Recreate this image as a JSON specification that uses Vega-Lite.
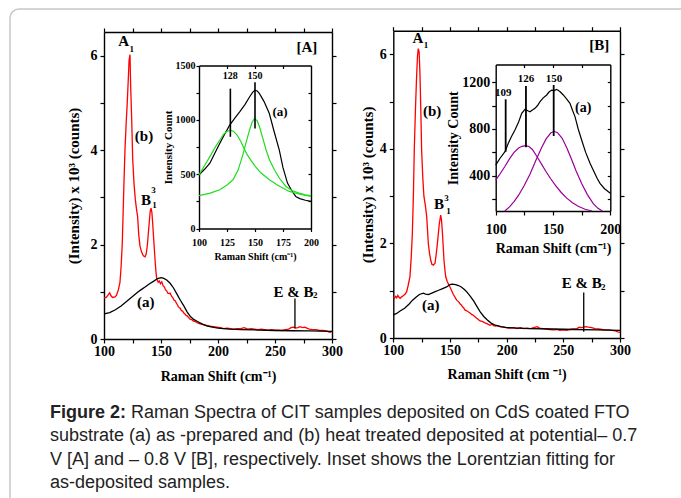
{
"$schema": "https://vega.github.io/schema/vega-lite/v6.json",
"width": 683, "height": 501,
"autosize": "none",
"padding": {"left": 10, "top": 9, "right": -12, "bottom": -12},
"background": "white",
"config": {
 "view": {"stroke": "#c8c8c8", "strokeWidth": 1.5, "cornerRadius": 9},
 "axis": {"grid": false, "domainColor": "black", "tickColor": "black", "labelColor": "black", "titleColor": "black", "labelFont": "Liberation Serif", "titleFont": "Liberation Serif", "labelFontWeight": "bold", "titleFontWeight": "bold", "domainWidth": 1.4, "tickWidth": 1.2, "labelFlush": false, "labelOverlap": false, "labelBound": false}
},
"resolve": {"scale": {"x": "independent", "y": "independent"}, "axis": {"x": "independent", "y": "independent"}},
"datasets": {
 "mainA": [
  {"x":100,"y":0.87,"s":"b"},{"x":102,"y":0.88,"s":"b"},{"x":103.5,"y":0.93,"s":"b"},{"x":105,"y":0.98,"s":"b"},{"x":106,"y":0.92,"s":"b"},{"x":107.5,"y":0.88,"s":"b"},{"x":109.7,"y":0.89,"s":"b"},{"x":111,"y":0.93,"s":"b"},{"x":112.6,"y":1.04,"s":"b"},{"x":114,"y":1.2,"s":"b"},{"x":115,"y":1.53,"s":"b"},{"x":116,"y":2.0,"s":"b"},{"x":116.7,"y":2.6,"s":"b"},{"x":117.5,"y":3.3,"s":"b"},{"x":118.4,"y":4.0,"s":"b"},{"x":119.5,"y":4.6,"s":"b"},{"x":120.4,"y":5.0,"s":"b"},{"x":121.3,"y":5.5,"s":"b"},{"x":122,"y":5.9,"s":"b"},{"x":122.8,"y":6.02,"s":"b"},{"x":123.4,"y":5.35,"s":"b"},{"x":124.3,"y":4.64,"s":"b"},{"x":125.2,"y":3.8,"s":"b"},{"x":126.3,"y":3.3,"s":"b"},{"x":127.5,"y":2.95,"s":"b"},{"x":128.5,"y":2.75,"s":"b"},{"x":129.5,"y":2.59,"s":"b"},{"x":130.5,"y":2.2,"s":"b"},{"x":131.6,"y":1.96,"s":"b"},{"x":133,"y":1.84,"s":"b"},{"x":134.5,"y":1.76,"s":"b"},{"x":136,"y":1.74,"s":"b"},{"x":137,"y":1.8,"s":"b"},{"x":138,"y":1.98,"s":"b"},{"x":138.9,"y":2.24,"s":"b"},{"x":139.8,"y":2.5,"s":"b"},{"x":140.5,"y":2.7,"s":"b"},{"x":141.3,"y":2.77,"s":"b"},{"x":142,"y":2.68,"s":"b"},{"x":142.7,"y":2.45,"s":"b"},{"x":143.5,"y":2.15,"s":"b"},{"x":144.2,"y":1.89,"s":"b"},{"x":145,"y":1.6,"s":"b"},{"x":145.7,"y":1.39,"s":"b"},{"x":146.3,"y":1.27,"s":"b"},{"x":147.5,"y":1.2,"s":"b"},{"x":148.5,"y":1.23,"s":"b"},{"x":149.5,"y":1.17,"s":"b"},{"x":150.7,"y":1.21,"s":"b"},{"x":152,"y":1.12,"s":"b"},{"x":153,"y":1.1,"s":"b"},{"x":154,"y":1.04,"s":"b"},{"x":155,"y":1.02,"s":"b"},{"x":156,"y":0.97,"s":"b"},{"x":157,"y":0.96,"s":"b"},{"x":158,"y":0.97,"s":"b"},{"x":159.4,"y":0.9,"s":"b"},{"x":160.5,"y":0.87,"s":"b"},{"x":161.5,"y":0.82,"s":"b"},{"x":162.5,"y":0.81,"s":"b"},{"x":163.5,"y":0.76,"s":"b"},{"x":164.5,"y":0.72,"s":"b"},{"x":165.3,"y":0.68,"s":"b"},{"x":166.8,"y":0.65,"s":"b"},{"x":168,"y":0.6,"s":"b"},{"x":169,"y":0.59,"s":"b"},{"x":170,"y":0.55,"s":"b"},{"x":171,"y":0.53,"s":"b"},{"x":172,"y":0.5,"s":"b"},{"x":173,"y":0.49,"s":"b"},{"x":174,"y":0.46,"s":"b"},{"x":175.5,"y":0.42,"s":"b"},{"x":177,"y":0.41,"s":"b"},{"x":178.5,"y":0.38,"s":"b"},{"x":180,"y":0.37,"s":"b"},{"x":182,"y":0.34,"s":"b"},{"x":184.3,"y":0.32,"s":"b"},{"x":186,"y":0.31,"s":"b"},{"x":188,"y":0.3,"s":"b"},{"x":190,"y":0.29,"s":"b"},{"x":193,"y":0.27,"s":"b"},{"x":196,"y":0.26,"s":"b"},{"x":199,"y":0.25,"s":"b"},{"x":202,"y":0.24,"s":"b"},{"x":205,"y":0.22,"s":"b"},{"x":208,"y":0.23,"s":"b"},{"x":211,"y":0.22,"s":"b"},{"x":214,"y":0.21,"s":"b"},{"x":217,"y":0.22,"s":"b"},{"x":220,"y":0.22,"s":"b"},{"x":223,"y":0.24,"s":"b"},{"x":226,"y":0.21,"s":"b"},{"x":229,"y":0.22,"s":"b"},{"x":232,"y":0.21,"s":"b"},{"x":235,"y":0.2,"s":"b"},{"x":238,"y":0.21,"s":"b"},{"x":241,"y":0.2,"s":"b"},{"x":244,"y":0.19,"s":"b"},{"x":247,"y":0.2,"s":"b"},{"x":250,"y":0.19,"s":"b"},{"x":253,"y":0.19,"s":"b"},{"x":256,"y":0.18,"s":"b"},{"x":259,"y":0.2,"s":"b"},{"x":262,"y":0.21,"s":"b"},{"x":264,"y":0.24,"s":"b"},{"x":266,"y":0.25,"s":"b"},{"x":268,"y":0.23,"s":"b"},{"x":270,"y":0.24,"s":"b"},{"x":272,"y":0.26,"s":"b"},{"x":274,"y":0.24,"s":"b"},{"x":276,"y":0.25,"s":"b"},{"x":278,"y":0.23,"s":"b"},{"x":280,"y":0.21,"s":"b"},{"x":283,"y":0.2,"s":"b"},{"x":286,"y":0.2,"s":"b"},{"x":289,"y":0.18,"s":"b"},{"x":292,"y":0.18,"s":"b"},{"x":295,"y":0.17,"s":"b"},{"x":297,"y":0.15,"s":"b"},{"x":298.5,"y":0.14,"s":"b"},{"x":300,"y":0.16,"s":"b"},
  {"x":100,"y":0.53,"s":"a"},{"x":105,"y":0.56,"s":"a"},{"x":110,"y":0.62,"s":"a"},{"x":115,"y":0.7,"s":"a"},{"x":120,"y":0.8,"s":"a"},{"x":125,"y":0.9,"s":"a"},{"x":130,"y":1.0,"s":"a"},{"x":133,"y":1.05,"s":"a"},{"x":136,"y":1.1,"s":"a"},{"x":140,"y":1.17,"s":"a"},{"x":144,"y":1.23,"s":"a"},{"x":147,"y":1.28,"s":"a"},{"x":150,"y":1.3,"s":"a"},{"x":152,"y":1.29,"s":"a"},{"x":155,"y":1.25,"s":"a"},{"x":158,"y":1.18,"s":"a"},{"x":161,"y":1.08,"s":"a"},{"x":164,"y":0.95,"s":"a"},{"x":167,"y":0.82,"s":"a"},{"x":170,"y":0.7,"s":"a"},{"x":173,"y":0.57,"s":"a"},{"x":176,"y":0.47,"s":"a"},{"x":179,"y":0.41,"s":"a"},{"x":182,"y":0.37,"s":"a"},{"x":186,"y":0.32,"s":"a"},{"x":190,"y":0.28,"s":"a"},{"x":195,"y":0.25,"s":"a"},{"x":200,"y":0.23,"s":"a"},{"x":210,"y":0.21,"s":"a"},{"x":220,"y":0.2,"s":"a"},{"x":235,"y":0.19,"s":"a"},{"x":250,"y":0.18,"s":"a"},{"x":265,"y":0.175,"s":"a"},{"x":280,"y":0.17,"s":"a"},{"x":300,"y":0.16,"s":"a"}
 ],
 "mainB": [
  {"x":100,"y":0.87,"s":"b"},{"x":101,"y":0.84,"s":"b"},{"x":102,"y":0.88,"s":"b"},{"x":103,"y":0.85,"s":"b"},{"x":104,"y":0.9,"s":"b"},{"x":105,"y":0.86,"s":"b"},{"x":106,"y":0.84,"s":"b"},{"x":107.4,"y":0.87,"s":"b"},{"x":109,"y":0.9,"s":"b"},{"x":110.5,"y":0.93,"s":"b"},{"x":111.8,"y":0.98,"s":"b"},{"x":113,"y":1.1,"s":"b"},{"x":114.7,"y":1.3,"s":"b"},{"x":115.8,"y":1.7,"s":"b"},{"x":116.8,"y":2.21,"s":"b"},{"x":117.7,"y":3.0,"s":"b"},{"x":118.5,"y":3.97,"s":"b"},{"x":119.5,"y":4.8,"s":"b"},{"x":120.5,"y":5.5,"s":"b"},{"x":121.3,"y":5.95,"s":"b"},{"x":122,"y":6.12,"s":"b"},{"x":122.8,"y":6.05,"s":"b"},{"x":123.5,"y":5.6,"s":"b"},{"x":124.3,"y":4.8,"s":"b"},{"x":125,"y":3.97,"s":"b"},{"x":126,"y":3.4,"s":"b"},{"x":127,"y":3.0,"s":"b"},{"x":128.3,"y":2.8,"s":"b"},{"x":129.5,"y":2.56,"s":"b"},{"x":130.9,"y":2.0,"s":"b"},{"x":132,"y":1.78,"s":"b"},{"x":133,"y":1.65,"s":"b"},{"x":134,"y":1.56,"s":"b"},{"x":135.3,"y":1.54,"s":"b"},{"x":136.8,"y":1.58,"s":"b"},{"x":138,"y":1.8,"s":"b"},{"x":139.2,"y":2.07,"s":"b"},{"x":140.5,"y":2.4,"s":"b"},{"x":141.8,"y":2.6,"s":"b"},{"x":142.5,"y":2.5,"s":"b"},{"x":143.2,"y":2.28,"s":"b"},{"x":144,"y":1.95,"s":"b"},{"x":144.7,"y":1.65,"s":"b"},{"x":145.5,"y":1.45,"s":"b"},{"x":146.2,"y":1.3,"s":"b"},{"x":147.5,"y":1.2,"s":"b"},{"x":149,"y":1.12,"s":"b"},{"x":150,"y":1.08,"s":"b"},{"x":151.5,"y":1.0,"s":"b"},{"x":153,"y":0.92,"s":"b"},{"x":154.5,"y":0.86,"s":"b"},{"x":155.9,"y":0.8,"s":"b"},{"x":157.5,"y":0.77,"s":"b"},{"x":159,"y":0.72,"s":"b"},{"x":160,"y":0.7,"s":"b"},{"x":161,"y":0.66,"s":"b"},{"x":162,"y":0.64,"s":"b"},{"x":163.3,"y":0.59,"s":"b"},{"x":164.5,"y":0.58,"s":"b"},{"x":165.5,"y":0.56,"s":"b"},{"x":166.5,"y":0.55,"s":"b"},{"x":167.7,"y":0.53,"s":"b"},{"x":169,"y":0.5,"s":"b"},{"x":170,"y":0.49,"s":"b"},{"x":171,"y":0.47,"s":"b"},{"x":172.1,"y":0.45,"s":"b"},{"x":173.5,"y":0.42,"s":"b"},{"x":174.5,"y":0.4,"s":"b"},{"x":175.5,"y":0.38,"s":"b"},{"x":176.5,"y":0.36,"s":"b"},{"x":178.5,"y":0.35,"s":"b"},{"x":180.9,"y":0.32,"s":"b"},{"x":183,"y":0.3,"s":"b"},{"x":185.3,"y":0.27,"s":"b"},{"x":187,"y":0.29,"s":"b"},{"x":188.5,"y":0.26,"s":"b"},{"x":190,"y":0.25,"s":"b"},{"x":192,"y":0.26,"s":"b"},{"x":194,"y":0.24,"s":"b"},{"x":197,"y":0.23,"s":"b"},{"x":200,"y":0.22,"s":"b"},{"x":203,"y":0.21,"s":"b"},{"x":206,"y":0.22,"s":"b"},{"x":209,"y":0.2,"s":"b"},{"x":212,"y":0.22,"s":"b"},{"x":215,"y":0.2,"s":"b"},{"x":218,"y":0.21,"s":"b"},{"x":221,"y":0.2,"s":"b"},{"x":224,"y":0.22,"s":"b"},{"x":227,"y":0.24,"s":"b"},{"x":229,"y":0.21,"s":"b"},{"x":232,"y":0.2,"s":"b"},{"x":235,"y":0.19,"s":"b"},{"x":238,"y":0.18,"s":"b"},{"x":241,"y":0.17,"s":"b"},{"x":244,"y":0.18,"s":"b"},{"x":247,"y":0.16,"s":"b"},{"x":250,"y":0.17,"s":"b"},{"x":253,"y":0.16,"s":"b"},{"x":256,"y":0.18,"s":"b"},{"x":259,"y":0.19,"s":"b"},{"x":262,"y":0.2,"s":"b"},{"x":264,"y":0.23,"s":"b"},{"x":266,"y":0.22,"s":"b"},{"x":268,"y":0.23,"s":"b"},{"x":270,"y":0.24,"s":"b"},{"x":272,"y":0.23,"s":"b"},{"x":275,"y":0.22,"s":"b"},{"x":278,"y":0.2,"s":"b"},{"x":281,"y":0.19,"s":"b"},{"x":284,"y":0.18,"s":"b"},{"x":287,"y":0.17,"s":"b"},{"x":290,"y":0.17,"s":"b"},{"x":293,"y":0.16,"s":"b"},{"x":296,"y":0.15,"s":"b"},{"x":298,"y":0.13,"s":"b"},{"x":300,"y":0.12,"s":"b"},
  {"x":100,"y":0.49,"s":"a"},{"x":103,"y":0.52,"s":"a"},{"x":106,"y":0.57,"s":"a"},{"x":110,"y":0.63,"s":"a"},{"x":114,"y":0.72,"s":"a"},{"x":117,"y":0.8,"s":"a"},{"x":120,"y":0.86,"s":"a"},{"x":123,"y":0.92,"s":"a"},{"x":126.5,"y":0.95,"s":"a"},{"x":128.5,"y":0.93,"s":"a"},{"x":131,"y":0.92,"s":"a"},{"x":134,"y":0.95,"s":"a"},{"x":137,"y":0.98,"s":"a"},{"x":140,"y":1.01,"s":"a"},{"x":143,"y":1.04,"s":"a"},{"x":147,"y":1.08,"s":"a"},{"x":150,"y":1.13,"s":"a"},{"x":152,"y":1.14,"s":"a"},{"x":155,"y":1.13,"s":"a"},{"x":157.5,"y":1.11,"s":"a"},{"x":160,"y":1.08,"s":"a"},{"x":163,"y":1.02,"s":"a"},{"x":165,"y":0.97,"s":"a"},{"x":168,"y":0.88,"s":"a"},{"x":171,"y":0.78,"s":"a"},{"x":174,"y":0.66,"s":"a"},{"x":177,"y":0.54,"s":"a"},{"x":180,"y":0.45,"s":"a"},{"x":183,"y":0.38,"s":"a"},{"x":186,"y":0.32,"s":"a"},{"x":190,"y":0.27,"s":"a"},{"x":195,"y":0.24,"s":"a"},{"x":200,"y":0.22,"s":"a"},{"x":210,"y":0.21,"s":"a"},{"x":220,"y":0.2,"s":"a"},{"x":240,"y":0.19,"s":"a"},{"x":260,"y":0.18,"s":"a"},{"x":280,"y":0.17,"s":"a"},{"x":300,"y":0.16,"s":"a"}
 ],
 "insetA": [
  {"x":100,"y":494,"s":"a"},{"x":105,"y":545,"s":"a"},{"x":109.7,"y":601,"s":"a"},{"x":114,"y":690,"s":"a"},{"x":118.6,"y":784,"s":"a"},{"x":123,"y":870,"s":"a"},{"x":127.4,"y":951,"s":"a"},{"x":132,"y":1015,"s":"a"},{"x":136.3,"y":1073,"s":"a"},{"x":141,"y":1140,"s":"a"},{"x":145.1,"y":1210,"s":"a"},{"x":148,"y":1255,"s":"a"},{"x":150,"y":1272,"s":"a"},{"x":152,"y":1265,"s":"a"},{"x":154,"y":1241,"s":"a"},{"x":158,"y":1170,"s":"a"},{"x":162.8,"y":1058,"s":"a"},{"x":167,"y":895,"s":"a"},{"x":171.7,"y":722,"s":"a"},{"x":175,"y":560,"s":"a"},{"x":179,"y":418,"s":"a"},{"x":183,"y":345,"s":"a"},{"x":186.4,"y":295,"s":"a"},{"x":190,"y":275,"s":"a"},{"x":195,"y":260,"s":"a"},{"x":200,"y":250,"s":"a"},
  {"x":100,"y":494,"s":"g1"},{"x":105,"y":580,"s":"g1"},{"x":109.7,"y":661,"s":"g1"},{"x":114,"y":740,"s":"g1"},{"x":118.6,"y":814,"s":"g1"},{"x":122,"y":868,"s":"g1"},{"x":124.5,"y":890,"s":"g1"},{"x":128,"y":905,"s":"g1"},{"x":131,"y":893,"s":"g1"},{"x":134,"y":860,"s":"g1"},{"x":137.4,"y":800,"s":"g1"},{"x":140,"y":740,"s":"g1"},{"x":143,"y":680,"s":"g1"},{"x":146.3,"y":630,"s":"g1"},{"x":150,"y":575,"s":"g1"},{"x":155,"y":515,"s":"g1"},{"x":162.8,"y":448,"s":"g1"},{"x":170,"y":400,"s":"g1"},{"x":180.5,"y":341,"s":"g1"},{"x":190,"y":315,"s":"g1"},{"x":200,"y":295,"s":"g1"},
  {"x":100,"y":302,"s":"g2"},{"x":110,"y":325,"s":"g2"},{"x":118.6,"y":357,"s":"g2"},{"x":125,"y":400,"s":"g2"},{"x":130.4,"y":448,"s":"g2"},{"x":135,"y":540,"s":"g2"},{"x":139.2,"y":680,"s":"g2"},{"x":142,"y":790,"s":"g2"},{"x":145.1,"y":905,"s":"g2"},{"x":147.5,"y":980,"s":"g2"},{"x":149.6,"y":1012,"s":"g2"},{"x":152,"y":990,"s":"g2"},{"x":154,"y":936,"s":"g2"},{"x":157,"y":830,"s":"g2"},{"x":159.9,"y":722,"s":"g2"},{"x":163,"y":630,"s":"g2"},{"x":167.3,"y":540,"s":"g2"},{"x":172,"y":460,"s":"g2"},{"x":177.6,"y":387,"s":"g2"},{"x":183,"y":350,"s":"g2"},{"x":189.4,"y":326,"s":"g2"},{"x":195,"y":310,"s":"g2"},{"x":200,"y":302,"s":"g2"}
 ],
 "insetB": [
  {"x":100,"y":492,"s":"a"},{"x":103.8,"y":550,"s":"a"},{"x":108.1,"y":606,"s":"a"},{"x":111,"y":678,"s":"a"},{"x":114,"y":740,"s":"a"},{"x":116.8,"y":791,"s":"a"},{"x":120,"y":860,"s":"a"},{"x":122.7,"y":934,"s":"a"},{"x":125.6,"y":968,"s":"a"},{"x":128,"y":955,"s":"a"},{"x":129.9,"y":947,"s":"a"},{"x":132,"y":962,"s":"a"},{"x":134.3,"y":976,"s":"a"},{"x":136.5,"y":1000,"s":"a"},{"x":138.7,"y":1033,"s":"a"},{"x":141.5,"y":1065,"s":"a"},{"x":144.5,"y":1090,"s":"a"},{"x":146.5,"y":1115,"s":"a"},{"x":148.9,"y":1132,"s":"a"},{"x":151,"y":1128,"s":"a"},{"x":153.2,"y":1138,"s":"a"},{"x":156,"y":1120,"s":"a"},{"x":159,"y":1090,"s":"a"},{"x":162,"y":1055,"s":"a"},{"x":164.8,"y":1019,"s":"a"},{"x":167,"y":960,"s":"a"},{"x":169.2,"y":905,"s":"a"},{"x":172,"y":800,"s":"a"},{"x":175,"y":706,"s":"a"},{"x":178.5,"y":600,"s":"a"},{"x":182.3,"y":507,"s":"a"},{"x":186,"y":430,"s":"a"},{"x":188.5,"y":380,"s":"a"},{"x":191,"y":336,"s":"a"},{"x":195,"y":290,"s":"a"},{"x":200,"y":251,"s":"a"},
  {"x":100,"y":364,"s":"p1"},{"x":104,"y":420,"s":"p1"},{"x":108,"y":480,"s":"p1"},{"x":112,"y":545,"s":"p1"},{"x":116,"y":600,"s":"p1"},{"x":120,"y":638,"s":"p1"},{"x":123,"y":652,"s":"p1"},{"x":126,"y":657,"s":"p1"},{"x":129,"y":650,"s":"p1"},{"x":132,"y":625,"s":"p1"},{"x":136,"y":565,"s":"p1"},{"x":140,"y":500,"s":"p1"},{"x":144,"y":435,"s":"p1"},{"x":148,"y":375,"s":"p1"},{"x":152,"y":320,"s":"p1"},{"x":157,"y":260,"s":"p1"},{"x":162,"y":210,"s":"p1"},{"x":167,"y":170,"s":"p1"},{"x":172,"y":140,"s":"p1"},{"x":178,"y":115,"s":"p1"},{"x":184,"y":100,"s":"p1"},
  {"x":108,"y":100,"s":"p2"},{"x":112,"y":135,"s":"p2"},{"x":116,"y":180,"s":"p2"},{"x":120,"y":235,"s":"p2"},{"x":125,"y":320,"s":"p2"},{"x":130,"y":415,"s":"p2"},{"x":135,"y":530,"s":"p2"},{"x":140,"y":640,"s":"p2"},{"x":144,"y":715,"s":"p2"},{"x":148,"y":765,"s":"p2"},{"x":151,"y":780,"s":"p2"},{"x":154,"y":768,"s":"p2"},{"x":158,"y":720,"s":"p2"},{"x":162,"y":640,"s":"p2"},{"x":166,"y":545,"s":"p2"},{"x":170,"y":445,"s":"p2"},{"x":175,"y":335,"s":"p2"},{"x":180,"y":240,"s":"p2"},{"x":185,"y":165,"s":"p2"},{"x":189,"y":125,"s":"p2"},{"x":193,"y":100,"s":"p2"}
 ],
 "frame": [{"x": 150, "y": 1}],
 "markA": [{"x":267.5,"y1":0.23,"y2":0.86}],
 "markB": [{"x":268,"y1":0.13,"y2":0.96}],
 "markIA": [{"x":128,"y1":844,"y2":1287},{"x":150,"y1":921,"y2":1347}],
 "markIB": [{"x":108.7,"y1":606,"y2":1053},{"x":126.4,"y1":643,"y2":1167},{"x":150.6,"y1":740,"y2":1175}],
 "bigA": [{"x":117.3,"y":6.3,"t":"A"},{"x":136.8,"y":2.94,"t":"B"},{"x":266.3,"y":1.0,"t":"E & B"},{"x":135.1,"y":4.29,"t":"(b)"},{"x":136.6,"y":0.79,"t":"(a)"},{"x":278,"y":6.19,"t":"[A]"}],
 "smallA": [{"x":124.3,"y":6.14,"t":"1"},{"x":143.4,"y":3.16,"t":"3"},{"x":144.2,"y":2.84,"t":"1"},{"x":285.3,"y":0.93,"t":"2"}],
 "bigB": [{"x":121.8,"y":6.34,"t":"A"},{"x":140.3,"y":2.83,"t":"B"},{"x":266.2,"y":1.16,"t":"E & B"},{"x":134.3,"y":4.8,"t":"(b)"},{"x":133,"y":0.7,"t":"(a)"},{"x":281.7,"y":6.19,"t":"[B]"}],
 "smallB": [{"x":128.8,"y":6.2,"t":"1"},{"x":147,"y":2.97,"t":"3"},{"x":148.6,"y":2.69,"t":"1"},{"x":285.3,"y":1.07,"t":"2"}],
 "labIA": [{"x":128,"y":1399,"t":"128"},{"x":150,"y":1399,"t":"150"}],
 "tagIA": [{"x":172.3,"y":1073,"t":"(a)"}],
 "labIB": [{"x":106.6,"y":1104,"t":"109"},{"x":126.4,"y":1224,"t":"126"},{"x":150.9,"y":1224,"t":"150"}],
 "tagIB": [{"x":176.4,"y":976,"t":"(a)"}],
 "caption": [
  {"line":1,"part":"bold","text":"Figure 2:"},
  {"line":1,"part":"first","text":"Raman Spectra of CIT samples deposited on CdS coated FTO"},
  {"line":2,"part":"rest","text":"substrate (a) as -prepared and (b) heat treated deposited at potential– 0.7"},
  {"line":3,"part":"rest","text":"V [A] and – 0.8 V [B], respectively. Inset shows the Lorentzian fitting for"},
  {"line":4,"part":"rest","text":"as-deposited samples."}
 ]
},
"layer": [
 {"data": {"name": "mainA"}, "mark": {"type": "line", "strokeWidth": 1.3},
  "encoding": {
   "x": {"field": "x", "type": "quantitative", "scale": {"domain": [100, 300], "range": [94, 322], "nice": false, "zero": false},
     "axis": {"orient": "bottom", "offset": -171, "values": [100,125,150,175,200,225,250,275,300], "labelExpr": "datum.value % 50 == 0 ? datum.label : ''", "tickSize": 4, "labelPadding": 1.5, "labelFontSize": 14, "title": "Raman Shift (cm\u207b\u00b9)", "titleFontSize": 14, "titlePadding": 11}},
   "y": {"field": "y", "type": "quantitative", "scale": {"domain": [0, 6.5], "range": [330, 23], "nice": false, "zero": false},
     "axis": {"orient": "left", "offset": -94, "values": [0,1,2,3,4,5,6], "labelExpr": "datum.value % 2 == 0 ? datum.label : ''", "tickSize": 4, "labelPadding": 3, "labelFontSize": 14, "title": "(Intensity) x 10\u00b3 (counts)", "titleFontSize": 15, "titlePadding": 9}},
   "color": {"field": "s", "type": "nominal", "scale": {"domain": ["a","b","g1","g2","p1","p2"], "range": ["#000000","#ff0000","#1edc1e","#1edc1e","#990099","#990099"]}, "legend": null}
  }},
 {"data": {"name": "frame"}, "mark": {"type": "point", "opacity": 0},
  "encoding": {
   "x": {"field": "x", "type": "quantitative", "scale": {"domain": [100, 300], "range": [94, 322], "nice": false, "zero": false},
     "axis": {"orient": "top", "offset": -23, "values": [100,125,150,175,200,225,250,275,300], "labels": false, "tickSize": 4, "title": null}},
   "y": {"field": "y", "type": "quantitative", "scale": {"domain": [0, 6.5], "range": [330, 23], "nice": false, "zero": false},
     "axis": {"orient": "right", "offset": -361, "values": [0,1,2,3,4,5,6], "labels": false, "tickSize": 4, "title": null}}
  }},
 {"data": {"name": "markA"}, "mark": {"type": "rule", "color": "black", "strokeWidth": 1.3},
  "encoding": {
   "x": {"field": "x", "type": "quantitative", "scale": {"domain": [100, 300], "range": [94, 322], "nice": false, "zero": false}, "axis": null},
   "y": {"field": "y1", "type": "quantitative", "scale": {"domain": [0, 6.5], "range": [330, 23], "nice": false, "zero": false}, "axis": null},
   "y2": {"field": "y2"}
  }},
 {"data": {"name": "bigA"}, "mark": {"type": "text", "font": "Liberation Serif", "fontWeight": "bold", "fontSize": 15, "color": "black", "baseline": "middle", "align": "center"},
  "encoding": {
   "x": {"field": "x", "type": "quantitative", "scale": {"domain": [100, 300], "range": [94, 322], "nice": false, "zero": false}, "axis": null},
   "y": {"field": "y", "type": "quantitative", "scale": {"domain": [0, 6.5], "range": [330, 23], "nice": false, "zero": false}, "axis": null},
   "text": {"field": "t"}
  }},
 {"data": {"name": "smallA"}, "mark": {"type": "text", "font": "Liberation Serif", "fontWeight": "bold", "fontSize": 9, "color": "black", "baseline": "middle", "align": "center"},
  "encoding": {
   "x": {"field": "x", "type": "quantitative", "scale": {"domain": [100, 300], "range": [94, 322], "nice": false, "zero": false}, "axis": null},
   "y": {"field": "y", "type": "quantitative", "scale": {"domain": [0, 6.5], "range": [330, 23], "nice": false, "zero": false}, "axis": null},
   "text": {"field": "t"}
  }},
 {"data": {"name": "insetA"}, "mark": {"type": "line", "strokeWidth": 1.2},
  "encoding": {
   "x": {"field": "x", "type": "quantitative", "scale": {"domain": [100, 200], "range": [189, 301], "nice": false, "zero": false},
     "axis": {"orient": "bottom", "offset": -281.5, "values": [100,125,150,175,200], "tickSize": 3, "labelPadding": 6, "labelFontSize": 10, "title": "Raman Shift (cm\u207b\u00b9)", "titleFontSize": 10, "titlePadding": 4}},
   "y": {"field": "y", "type": "quantitative", "scale": {"domain": [0, 1500], "range": [219.5, 56.5], "nice": false, "zero": false},
     "axis": {"orient": "left", "offset": -189, "values": [0,250,500,750,1000,1250,1500], "format": "d", "labelExpr": "datum.value % 500 == 0 ? datum.label : ''", "tickSize": 3, "labelPadding": 1, "labelFontSize": 10, "title": "Intensity Count", "titleFontSize": 11, "titlePadding": 2}},
   "color": {"field": "s", "type": "nominal", "scale": {"domain": ["a","b","g1","g2","p1","p2"], "range": ["#000000","#ff0000","#1edc1e","#1edc1e","#990099","#990099"]}, "legend": null}
  }},
 {"data": {"name": "frame"}, "mark": {"type": "point", "opacity": 0},
  "encoding": {
   "x": {"field": "x", "type": "quantitative", "scale": {"domain": [100, 200], "range": [189, 301], "nice": false, "zero": false},
     "axis": {"orient": "top", "offset": -56.5, "values": [125,150,175], "labels": false, "tickSize": -3, "title": null}},
   "y": {"field": "y", "type": "quantitative", "scale": {"domain": [0, 1500], "range": [219.5, 56.5], "nice": false, "zero": false},
     "axis": {"orient": "right", "offset": -382, "values": [250,500,750,1000,1250], "labels": false, "tickSize": -3, "title": null}}
  }},
 {"data": {"name": "markIA"}, "mark": {"type": "rule", "color": "black", "strokeWidth": 1.6},
  "encoding": {
   "x": {"field": "x", "type": "quantitative", "scale": {"domain": [100, 200], "range": [189, 301], "nice": false, "zero": false}, "axis": null},
   "y": {"field": "y1", "type": "quantitative", "scale": {"domain": [0, 1500], "range": [219.5, 56.5], "nice": false, "zero": false}, "axis": null},
   "y2": {"field": "y2"}
  }},
 {"data": {"name": "labIA"}, "mark": {"type": "text", "font": "Liberation Serif", "fontWeight": "bold", "fontSize": 10, "color": "black", "baseline": "middle", "align": "center"},
  "encoding": {
   "x": {"field": "x", "type": "quantitative", "scale": {"domain": [100, 200], "range": [189, 301], "nice": false, "zero": false}, "axis": null},
   "y": {"field": "y", "type": "quantitative", "scale": {"domain": [0, 1500], "range": [219.5, 56.5], "nice": false, "zero": false}, "axis": null},
   "text": {"field": "t"}
  }},
 {"data": {"name": "tagIA"}, "mark": {"type": "text", "font": "Liberation Serif", "fontWeight": "bold", "fontSize": 13, "color": "black", "baseline": "middle", "align": "center"},
  "encoding": {
   "x": {"field": "x", "type": "quantitative", "scale": {"domain": [100, 200], "range": [189, 301], "nice": false, "zero": false}, "axis": null},
   "y": {"field": "y", "type": "quantitative", "scale": {"domain": [0, 1500], "range": [219.5, 56.5], "nice": false, "zero": false}, "axis": null},
   "text": {"field": "t"}
  }},
 {"data": {"name": "mainB"}, "mark": {"type": "line", "strokeWidth": 1.3},
  "encoding": {
   "x": {"field": "x", "type": "quantitative", "scale": {"domain": [100, 300], "range": [383.3, 610], "nice": false, "zero": false},
     "axis": {"orient": "bottom", "offset": -172, "values": [100,125,150,175,200,225,250,275,300], "labelExpr": "datum.value % 50 == 0 ? datum.label : ''", "tickSize": 4, "labelPadding": 1.5, "labelFontSize": 14, "title": "Raman Shift (cm \u207b\u00b9)", "titleFontSize": 14, "titlePadding": 10}},
   "y": {"field": "y", "type": "quantitative", "scale": {"domain": [0, 6.5], "range": [329, 21.7], "nice": false, "zero": false},
     "axis": {"orient": "left", "offset": -383.3, "values": [0,1,2,3,4,5,6], "labelExpr": "datum.value % 2 == 0 ? datum.label : ''", "tickSize": 4, "labelPadding": 3, "labelFontSize": 14, "title": "(Intensity) x 10\u00b3 (counts)", "titleFontSize": 15, "titlePadding": 4}},
   "color": {"field": "s", "type": "nominal", "scale": {"domain": ["a","b","g1","g2","p1","p2"], "range": ["#000000","#ff0000","#1edc1e","#1edc1e","#990099","#990099"]}, "legend": null}
  }},
 {"data": {"name": "frame"}, "mark": {"type": "point", "opacity": 0},
  "encoding": {
   "x": {"field": "x", "type": "quantitative", "scale": {"domain": [100, 300], "range": [383.3, 610], "nice": false, "zero": false},
     "axis": {"orient": "top", "offset": -21.7, "values": [100,125,150,175,200,225,250,275,300], "labels": false, "tickSize": 4, "title": null}},
   "y": {"field": "y", "type": "quantitative", "scale": {"domain": [0, 6.5], "range": [329, 21.7], "nice": false, "zero": false},
     "axis": {"orient": "right", "offset": -73, "values": [0,1,2,3,4,5,6], "labels": false, "tickSize": 4, "title": null}}
  }},
 {"data": {"name": "markB"}, "mark": {"type": "rule", "color": "black", "strokeWidth": 1.3},
  "encoding": {
   "x": {"field": "x", "type": "quantitative", "scale": {"domain": [100, 300], "range": [383.3, 610], "nice": false, "zero": false}, "axis": null},
   "y": {"field": "y1", "type": "quantitative", "scale": {"domain": [0, 6.5], "range": [329, 21.7], "nice": false, "zero": false}, "axis": null},
   "y2": {"field": "y2"}
  }},
 {"data": {"name": "bigB"}, "mark": {"type": "text", "font": "Liberation Serif", "fontWeight": "bold", "fontSize": 15, "color": "black", "baseline": "middle", "align": "center"},
  "encoding": {
   "x": {"field": "x", "type": "quantitative", "scale": {"domain": [100, 300], "range": [383.3, 610], "nice": false, "zero": false}, "axis": null},
   "y": {"field": "y", "type": "quantitative", "scale": {"domain": [0, 6.5], "range": [329, 21.7], "nice": false, "zero": false}, "axis": null},
   "text": {"field": "t"}
  }},
 {"data": {"name": "smallB"}, "mark": {"type": "text", "font": "Liberation Serif", "fontWeight": "bold", "fontSize": 9, "color": "black", "baseline": "middle", "align": "center"},
  "encoding": {
   "x": {"field": "x", "type": "quantitative", "scale": {"domain": [100, 300], "range": [383.3, 610], "nice": false, "zero": false}, "axis": null},
   "y": {"field": "y", "type": "quantitative", "scale": {"domain": [0, 6.5], "range": [329, 21.7], "nice": false, "zero": false}, "axis": null},
   "text": {"field": "t"}
  }},
 {"data": {"name": "insetB"}, "mark": {"type": "line", "strokeWidth": 1.2},
  "encoding": {
   "x": {"field": "x", "type": "quantitative", "scale": {"domain": [100, 200], "range": [485.7, 600.3], "nice": false, "zero": false},
     "axis": {"orient": "bottom", "offset": -299, "values": [100,125,150,175,200], "labelExpr": "datum.value % 50 == 0 ? datum.label : ''", "tickSize": 4, "labelPadding": 7, "labelFontSize": 14, "title": "Raman Shift (cm\u207b\u00b9)", "titleFontSize": 14, "titlePadding": 5}},
   "y": {"field": "y", "type": "quantitative", "scale": {"domain": [100, 1350], "range": [202, 55.5], "nice": false, "zero": false},
     "axis": {"orient": "left", "offset": -485.7, "values": [200,400,600,800,1000,1200], "format": "d", "labelExpr": "datum.value % 400 == 0 ? datum.label : ''", "tickSize": 4, "labelPadding": 2, "labelFontSize": 14, "title": "Intensity Count", "titleFontSize": 14, "titlePadding": 1}},
   "color": {"field": "s", "type": "nominal", "scale": {"domain": ["a","b","g1","g2","p1","p2"], "range": ["#000000","#ff0000","#1edc1e","#1edc1e","#990099","#990099"]}, "legend": null}
  }},
 {"data": {"name": "frame"}, "mark": {"type": "point", "opacity": 0},
  "encoding": {
   "x": {"field": "x", "type": "quantitative", "scale": {"domain": [100, 200], "range": [485.7, 600.3], "nice": false, "zero": false},
     "axis": {"orient": "top", "offset": -55.5, "values": [125,150,175], "labels": false, "tickSize": -3, "title": null}},
   "y": {"field": "y", "type": "quantitative", "scale": {"domain": [100, 1350], "range": [202, 55.5], "nice": false, "zero": false},
     "axis": {"orient": "right", "offset": -82.7, "values": [200,400,600,800,1000,1200], "labels": false, "tickSize": -3, "title": null}}
  }},
 {"data": {"name": "markIB"}, "mark": {"type": "rule", "color": "black", "strokeWidth": 1.8},
  "encoding": {
   "x": {"field": "x", "type": "quantitative", "scale": {"domain": [100, 200], "range": [485.7, 600.3], "nice": false, "zero": false}, "axis": null},
   "y": {"field": "y1", "type": "quantitative", "scale": {"domain": [100, 1350], "range": [202, 55.5], "nice": false, "zero": false}, "axis": null},
   "y2": {"field": "y2"}
  }},
 {"data": {"name": "labIB"}, "mark": {"type": "text", "font": "Liberation Serif", "fontWeight": "bold", "fontSize": 11, "color": "black", "baseline": "middle", "align": "center"},
  "encoding": {
   "x": {"field": "x", "type": "quantitative", "scale": {"domain": [100, 200], "range": [485.7, 600.3], "nice": false, "zero": false}, "axis": null},
   "y": {"field": "y", "type": "quantitative", "scale": {"domain": [100, 1350], "range": [202, 55.5], "nice": false, "zero": false}, "axis": null},
   "text": {"field": "t"}
  }},
 {"data": {"name": "tagIB"}, "mark": {"type": "text", "font": "Liberation Serif", "fontWeight": "bold", "fontSize": 14, "color": "black", "baseline": "middle", "align": "center"},
  "encoding": {
   "x": {"field": "x", "type": "quantitative", "scale": {"domain": [100, 200], "range": [485.7, 600.3], "nice": false, "zero": false}, "axis": null},
   "y": {"field": "y", "type": "quantitative", "scale": {"domain": [100, 1350], "range": [202, 55.5], "nice": false, "zero": false}, "axis": null},
   "text": {"field": "t"}
  }},
 {"data": {"name": "caption"}, "transform": [{"filter": "datum.part == 'bold'"}],
  "mark": {"type": "text", "align": "left", "baseline": "middle", "font": "Liberation Sans", "fontSize": 18, "fontWeight": "bold", "color": "#222222"},
  "encoding": {
   "x": {"datum": 0, "type": "quantitative", "scale": {"domain": [0, 1], "range": [40, 627]}, "axis": null},
   "y": {"field": "line", "type": "quantitative", "scale": {"domain": [1, 4], "range": [404, 474], "nice": false, "zero": false}, "axis": null},
   "text": {"field": "text"}
  }},
 {"data": {"name": "caption"}, "transform": [{"filter": "datum.part == 'first'"}],
  "mark": {"type": "text", "align": "left", "baseline": "middle", "font": "Liberation Sans", "fontSize": 18, "color": "#222222", "dx": 81},
  "encoding": {
   "x": {"datum": 0, "type": "quantitative", "scale": {"domain": [0, 1], "range": [40, 627]}, "axis": null},
   "y": {"field": "line", "type": "quantitative", "scale": {"domain": [1, 4], "range": [404, 474], "nice": false, "zero": false}, "axis": null},
   "text": {"field": "text"}
  }},
 {"data": {"name": "caption"}, "transform": [{"filter": "datum.part == 'rest'"}],
  "mark": {"type": "text", "align": "left", "baseline": "middle", "font": "Liberation Sans", "fontSize": 18, "color": "#222222"},
  "encoding": {
   "x": {"datum": 0, "type": "quantitative", "scale": {"domain": [0, 1], "range": [40, 627]}, "axis": null},
   "y": {"field": "line", "type": "quantitative", "scale": {"domain": [1, 4], "range": [404, 474], "nice": false, "zero": false}, "axis": null},
   "text": {"field": "text"}
  }}
]
}
